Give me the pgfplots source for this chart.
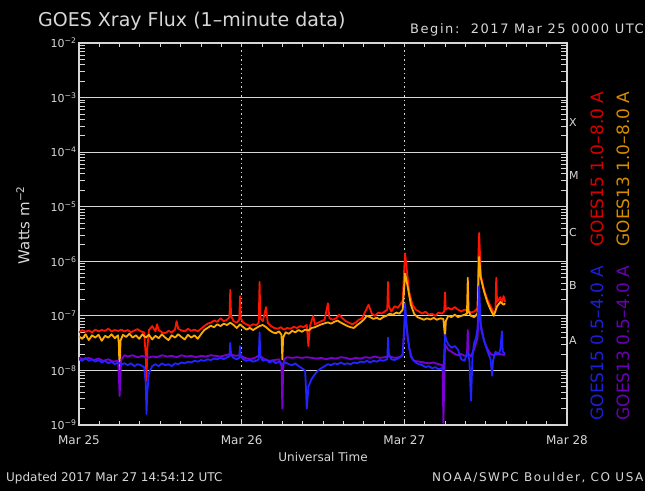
\documentclass[border=0pt]{standalone}
\usepackage{pgfplots}
\pgfplotsset{compat=1.18}
\usepackage{fontspec}
\setmainfont{DejaVu Sans}

\definecolor{fg}{RGB}{215,215,215}
\definecolor{longA}{RGB}{255,20,0}
\definecolor{longB}{RGB}{255,170,0}
\definecolor{shortA}{RGB}{35,35,255}
\definecolor{shortB}{RGB}{125,0,210}
\definecolor{txtA}{RGB}{215,0,0}
\definecolor{txtB}{RGB}{215,140,0}
\definecolor{txtC}{RGB}{30,30,215}
\definecolor{txtD}{RGB}{105,0,180}

\newcommand{\fs}[1]{\fontsize{#1}{#1}\selectfont}

\begin{document}
\begin{tikzpicture}
\fill[black] (-79pt,-66pt) rectangle (566pt,425pt);
\useasboundingbox (-79pt,-66pt) rectangle (566pt,425pt);
\begin{axis}[
  at={(0pt,0pt)}, anchor=south west,
  scale only axis, width=488pt, height=382pt,
  xmin=0, xmax=3,
  ymode=log, ymin=1e-9, ymax=1e-2,
  axis line style={fg, line width=1.2pt},
  every tick/.style={draw=none},
  xtick={0,1,2,3},
  xticklabels={Mar 25,Mar 26,Mar 27,Mar 28},
  ytick={1e-9,1e-8,1e-7,1e-6,1e-5,1e-4,1e-3,1e-2},
  yticklabels={10\textsuperscript{−9},10\textsuperscript{−8},10\textsuperscript{−7},10\textsuperscript{−6},10\textsuperscript{−5},10\textsuperscript{−4},10\textsuperscript{−3},10\textsuperscript{−2}},
  ymajorgrids,
  major grid style={fg, line width=1.2pt},
  xticklabel style={font=\fs{12}, text=fg, yshift=-7pt},
  yticklabel style={font=\fs{11}, text=fg, xshift=1pt},
  xlabel={Universal Time},
  xlabel style={font=\fs{12}, text=fg, yshift=-1pt},
  every axis plot/.append style={line width=1.8pt, line join=round},
]
% day boundaries
\draw[fg, line width=1pt, dash pattern=on 1.5pt off 3pt] (axis cs:1,1e-9) -- (axis cs:1,1e-2);
\draw[fg, line width=1pt, dash pattern=on 1.5pt off 3pt] (axis cs:2,1e-9) -- (axis cs:2,1e-2);
% 3-hour ticks on bottom and top
\pgfplotsinvokeforeach{0.125,0.25,0.375,0.5,0.625,0.75,0.875,1,1.125,1.25,1.375,1.5,1.625,1.75,1.875,2,2.125,2.25,2.375,2.5,2.625,2.75,2.875}{
  \draw[fg, line width=1pt] (axis cs:#1,1e-9) -- ([yshift=4pt]axis cs:#1,1e-9);
  \draw[fg, line width=1pt] (axis cs:#1,1e-2) -- ([yshift=-4pt]axis cs:#1,1e-2);
}
% log minor ticks on left and right
\pgfplotsinvokeforeach{2e-9,3e-9,4e-9,5e-9,6e-9,7e-9,8e-9,9e-9,
    2e-8,3e-8,4e-8,5e-8,6e-8,7e-8,8e-8,9e-8,
    2e-7,3e-7,4e-7,5e-7,6e-7,7e-7,8e-7,9e-7,
    2e-6,3e-6,4e-6,5e-6,6e-6,7e-6,8e-6,9e-6,
    2e-5,3e-5,4e-5,5e-5,6e-5,7e-5,8e-5,9e-5,
    2e-4,3e-4,4e-4,5e-4,6e-4,7e-4,8e-4,9e-4,
    2e-3,3e-3,4e-3,5e-3,6e-3,7e-3,8e-3,9e-3}{
  \draw[fg, line width=1pt] (axis cs:0,#1) -- ([xshift=6pt]axis cs:0,#1);
  \draw[fg, line width=1pt] (axis cs:3,#1) -- ([xshift=-6pt]axis cs:3,#1);
}
% GOES15 1.0-8.0 A
\addplot[longA] coordinates {
(0.00,5.0e-8)(0.02,5.5e-8)(0.04,5.1e-8)(0.06,5.4e-8)(0.08,5.0e-8)(0.10,5.6e-8)
(0.12,5.2e-8)(0.14,5.5e-8)(0.16,5.3e-8)(0.18,5.8e-8)(0.20,5.2e-8)(0.22,5.5e-8)
(0.24,5.3e-8)(0.26,5.6e-8)(0.28,5.2e-8)(0.30,5.5e-8)(0.32,5.0e-8)(0.34,5.4e-8)
(0.36,5.7e-8)(0.38,5.2e-8)(0.40,5.0e-8)(0.41,2.0e-8)(0.415,6.5e-9)(0.42,2.5e-8)
(0.43,5.5e-8)(0.45,6.5e-8)(0.47,5.2e-8)(0.48,7.0e-8)(0.49,5.5e-8)(0.51,5.0e-8)
(0.53,4.8e-8)(0.55,5.3e-8)(0.57,5.0e-8)(0.59,5.6e-8)(0.60,8.0e-8)(0.61,5.8e-8)
(0.63,5.4e-8)(0.65,5.2e-8)(0.67,5.8e-8)(0.69,5.3e-8)(0.71,5.6e-8)(0.73,5.2e-8)
(0.75,5.8e-8)(0.77,6.5e-8)(0.79,7.2e-8)(0.81,7.5e-8)(0.83,8.2e-8)(0.85,7.8e-8)
(0.87,9.0e-8)(0.89,8.0e-8)(0.91,8.5e-8)(0.925,9.5e-8)(0.93,3.0e-7)(0.935,1.0e-7)
(0.95,8.0e-8)(0.97,7.5e-8)(0.985,8.5e-8)(0.99,2.3e-7)(0.995,9.0e-8)(1.01,7.5e-8)
(1.03,7.0e-8)(1.05,6.5e-8)(1.07,7.0e-8)(1.09,6.8e-8)(1.105,7.5e-8)(1.11,4.2e-7)
(1.115,9.0e-8)(1.13,8.0e-8)(1.15,1.45e-7)(1.16,7.5e-8)(1.18,6.5e-8)(1.20,6.0e-8)
(1.22,5.8e-8)(1.24,6.2e-8)(1.26,5.6e-8)(1.28,6.0e-8)(1.30,5.8e-8)(1.32,6.3e-8)
(1.34,6.0e-8)(1.36,6.5e-8)(1.38,6.2e-8)(1.40,6.8e-8)(1.41,2.8e-8)(1.42,6.5e-8)
(1.44,1.0e-7)(1.45,7.0e-8)(1.47,7.5e-8)(1.49,8.0e-8)(1.51,8.5e-8)(1.53,1.7e-7)
(1.54,9.0e-8)(1.56,8.5e-8)(1.58,9.0e-8)(1.60,1.05e-7)(1.62,9.0e-8)(1.64,8.0e-8)
(1.66,7.5e-8)(1.68,7.0e-8)(1.70,7.5e-8)(1.72,8.5e-8)(1.74,9.0e-8)(1.76,1.2e-7)
(1.78,1.6e-7)(1.80,1.1e-7)(1.82,1.0e-7)(1.84,1.15e-7)(1.86,1.1e-7)(1.88,1.2e-7)
(1.895,1.3e-7)(1.90,4.2e-7)(1.905,1.5e-7)(1.92,1.2e-7)(1.94,1.5e-7)(1.96,1.4e-7)
(1.98,1.7e-7)(1.99,1.9e-7)(2.00,8.0e-7)(2.005,1.4e-6)(2.015,7.0e-7)(2.03,2.7e-7)
(2.05,1.6e-7)(2.07,1.3e-7)(2.09,1.2e-7)(2.11,1.1e-7)(2.13,1.2e-7)(2.15,1.05e-7)
(2.17,1.1e-7)(2.19,1.0e-7)(2.21,1.15e-7)(2.23,1.1e-7)(2.245,1.2e-7)(2.25,2.7e-7)
(2.255,1.3e-7)(2.27,1.4e-7)(2.29,1.3e-7)(2.31,1.45e-7)(2.33,1.3e-7)(2.35,1.2e-7)
(2.37,1.3e-7)(2.39,1.25e-7)(2.41,1.15e-7)(2.43,1.2e-7)(2.45,1.4e-7)(2.455,1.2e-6)
(2.46,3.3e-6)(2.47,5.5e-7)(2.49,3.0e-7)(2.51,2.0e-7)(2.53,1.5e-7)(2.55,1.15e-7)
(2.56,1.2e-7)(2.565,5.0e-7)(2.57,1.8e-7)(2.59,2.2e-7)(2.60,1.7e-7)(2.61,2.3e-7)
(2.62,1.8e-7)
};
% GOES13 1.0-8.0 A
\addplot[longB] coordinates {
(0.00,4.2e-8)(0.02,3.8e-8)(0.04,4.6e-8)(0.06,3.6e-8)(0.08,4.4e-8)(0.10,4.0e-8)
(0.12,4.5e-8)(0.14,3.5e-8)(0.16,4.3e-8)(0.18,4.0e-8)(0.20,4.6e-8)(0.22,3.9e-8)
(0.24,4.4e-8)(0.245,3.0e-8)(0.25,8.0e-9)(0.255,3.5e-8)(0.27,4.5e-8)(0.29,4.1e-8)
(0.31,4.7e-8)(0.33,4.0e-8)(0.35,4.4e-8)(0.37,3.8e-8)(0.39,4.6e-8)(0.41,4.0e-8)
(0.43,4.5e-8)(0.45,3.7e-8)(0.47,4.3e-8)(0.49,3.9e-8)(0.51,4.6e-8)(0.53,4.0e-8)
(0.55,3.6e-8)(0.57,4.4e-8)(0.59,4.0e-8)(0.61,4.6e-8)(0.63,4.1e-8)(0.65,3.7e-8)
(0.67,4.5e-8)(0.69,4.0e-8)(0.71,4.4e-8)(0.73,3.8e-8)(0.75,4.6e-8)(0.77,5.5e-8)
(0.79,6.0e-8)(0.81,6.6e-8)(0.83,6.2e-8)(0.85,7.0e-8)(0.87,6.5e-8)(0.89,7.2e-8)
(0.91,6.8e-8)(0.93,7.5e-8)(0.95,6.8e-8)(0.97,6.0e-8)(0.99,7.0e-8)(1.01,6.2e-8)
(1.03,5.6e-8)(1.05,6.0e-8)(1.07,5.5e-8)(1.09,6.0e-8)(1.11,6.5e-8)(1.13,6.8e-8)
(1.15,6.2e-8)(1.17,5.5e-8)(1.19,5.0e-8)(1.21,4.8e-8)(1.23,5.2e-8)(1.245,4.5e-8)
(1.25,1.6e-8)(1.255,4.0e-8)(1.27,5.0e-8)(1.29,4.7e-8)(1.31,5.3e-8)(1.33,5.0e-8)
(1.35,5.5e-8)(1.37,5.1e-8)(1.39,5.6e-8)(1.41,5.4e-8)(1.43,6.0e-8)(1.45,6.2e-8)
(1.47,6.6e-8)(1.49,7.0e-8)(1.51,7.3e-8)(1.53,7.6e-8)(1.55,7.2e-8)(1.57,7.8e-8)
(1.59,8.2e-8)(1.61,7.5e-8)(1.63,7.0e-8)(1.65,6.5e-8)(1.67,6.2e-8)(1.69,6.0e-8)
(1.71,6.8e-8)(1.73,7.5e-8)(1.75,8.5e-8)(1.77,1.0e-7)(1.79,9.5e-8)(1.81,8.8e-8)
(1.83,9.2e-8)(1.85,8.6e-8)(1.87,9.5e-8)(1.89,1.0e-7)(1.91,1.1e-7)(1.93,1.05e-7)
(1.95,1.15e-7)(1.97,1.1e-7)(1.99,1.3e-7)(2.005,6.0e-7)(2.02,3.5e-7)(2.04,1.6e-7)
(2.06,1.1e-7)(2.08,9.5e-8)(2.10,9.0e-8)(2.12,8.5e-8)(2.14,9.0e-8)(2.16,8.6e-8)
(2.18,9.2e-8)(2.20,8.5e-8)(2.22,9.0e-8)(2.24,8.8e-8)(2.245,6.0e-8)(2.25,4.0e-8)
(2.255,8.0e-8)(2.27,1.0e-7)(2.29,9.5e-8)(2.31,1.05e-7)(2.33,9.5e-8)(2.35,1.0e-7)
(2.37,1.05e-7)(2.385,1.1e-7)(2.39,5.0e-7)(2.395,1.2e-7)(2.41,1.0e-7)(2.43,9.5e-8)
(2.45,1.1e-7)(2.46,1.2e-6)(2.47,5.0e-7)(2.49,2.8e-7)(2.51,1.8e-7)(2.53,1.3e-7)
(2.55,1.0e-7)(2.57,1.5e-7)(2.59,1.8e-7)(2.61,1.6e-7)(2.62,1.7e-7)
};
% GOES13 0.5-4.0 A
\addplot[shortB] coordinates {
(0.00,1.7e-8)(0.03,1.6e-8)(0.06,1.7e-8)(0.09,1.55e-8)(0.12,1.65e-8)(0.15,1.5e-8)
(0.18,1.6e-8)(0.21,1.45e-8)(0.24,1.5e-8)(0.245,8.0e-9)(0.25,3.4e-9)(0.255,9.0e-9)
(0.26,1.6e-8)(0.28,1.9e-8)(0.30,1.8e-8)(0.33,1.9e-8)(0.36,1.75e-8)(0.39,1.85e-8)
(0.42,1.7e-8)(0.45,1.8e-8)(0.48,1.75e-8)(0.51,1.9e-8)(0.54,1.8e-8)(0.57,1.85e-8)
(0.60,1.75e-8)(0.63,1.9e-8)(0.66,1.8e-8)(0.69,1.85e-8)(0.72,1.75e-8)(0.75,1.85e-8)
(0.78,1.8e-8)(0.81,1.9e-8)(0.84,1.85e-8)(0.87,1.8e-8)(0.90,1.9e-8)(0.93,2.0e-8)
(0.96,1.85e-8)(0.99,1.9e-8)(1.02,1.7e-8)(1.05,1.6e-8)(1.08,1.7e-8)(1.11,1.9e-8)
(1.14,1.6e-8)(1.17,1.5e-8)(1.20,1.55e-8)(1.23,1.6e-8)(1.245,1.2e-8)(1.25,2.0e-9)
(1.255,1.0e-8)(1.26,1.6e-8)(1.28,1.75e-8)(1.31,1.7e-8)(1.34,1.75e-8)(1.37,1.7e-8)
(1.40,1.75e-8)(1.43,1.7e-8)(1.46,1.65e-8)(1.49,1.7e-8)(1.52,1.6e-8)(1.55,1.7e-8)
(1.58,1.65e-8)(1.61,1.75e-8)(1.64,1.7e-8)(1.67,1.6e-8)(1.70,1.7e-8)(1.73,1.65e-8)
(1.76,1.75e-8)(1.79,1.7e-8)(1.82,1.8e-8)(1.85,1.7e-8)(1.88,1.75e-8)(1.91,1.8e-8)
(1.94,1.7e-8)(1.97,1.75e-8)(1.99,1.9e-8)(2.005,1.2e-7)(2.02,4.0e-8)(2.04,1.8e-8)
(2.06,1.5e-8)(2.09,1.45e-8)(2.12,1.4e-8)(2.15,1.35e-8)(2.18,1.4e-8)(2.21,1.3e-8)
(2.235,1.25e-8)(2.24,1.1e-9)(2.245,5.0e-9)(2.25,3.0e-8)(2.27,2.4e-8)(2.29,2.2e-8)
(2.31,2.0e-8)(2.33,1.9e-8)(2.35,2.0e-8)(2.37,1.85e-8)(2.385,1.9e-8)(2.39,5.5e-8)
(2.395,2.0e-8)(2.41,1.8e-8)(2.43,2.5e-8)(2.45,4.0e-8)(2.46,1.6e-7)(2.47,7.0e-8)
(2.49,3.5e-8)(2.51,2.5e-8)(2.53,2.0e-8)(2.55,1.9e-8)(2.57,2.0e-8)(2.59,2.0e-8)
(2.62,1.9e-8)
};
% GOES15 0.5-4.0 A
\addplot[shortA] coordinates {
(0.00,1.6e-8)(0.02,1.5e-8)(0.04,1.7e-8)(0.06,1.5e-8)(0.08,1.6e-8)(0.10,1.45e-8)
(0.12,1.55e-8)(0.14,1.4e-8)(0.16,1.5e-8)(0.18,1.35e-8)(0.20,1.45e-8)(0.22,1.3e-8)
(0.24,1.4e-8)(0.26,1.3e-8)(0.28,1.35e-8)(0.30,1.25e-8)(0.32,1.35e-8)(0.34,1.2e-8)
(0.36,1.3e-8)(0.38,1.25e-8)(0.40,1.15e-8)(0.41,6.0e-9)(0.415,1.6e-9)(0.42,4.0e-9)
(0.43,9.0e-9)(0.45,1.2e-8)(0.47,1.3e-8)(0.49,1.2e-8)(0.51,1.35e-8)(0.53,1.25e-8)
(0.55,1.3e-8)(0.57,1.2e-8)(0.59,1.35e-8)(0.61,1.3e-8)(0.63,1.4e-8)(0.65,1.35e-8)
(0.67,1.45e-8)(0.69,1.4e-8)(0.71,1.5e-8)(0.73,1.45e-8)(0.75,1.55e-8)(0.77,1.5e-8)
(0.79,1.6e-8)(0.81,1.55e-8)(0.83,1.65e-8)(0.85,1.6e-8)(0.87,1.7e-8)(0.89,1.6e-8)
(0.91,1.75e-8)(0.925,1.8e-8)(0.93,3.2e-8)(0.935,1.9e-8)(0.95,1.7e-8)(0.97,1.6e-8)
(0.985,1.7e-8)(0.99,2.8e-8)(0.995,1.8e-8)(1.01,1.6e-8)(1.03,1.5e-8)(1.05,1.55e-8)
(1.07,1.45e-8)(1.09,1.5e-8)(1.105,1.6e-8)(1.11,5.0e-8)(1.115,1.8e-8)(1.13,1.5e-8)
(1.15,1.6e-8)(1.17,1.4e-8)(1.19,1.5e-8)(1.21,1.35e-8)(1.23,1.45e-8)(1.25,1.3e-8)
(1.27,1.4e-8)(1.29,1.3e-8)(1.31,1.25e-8)(1.33,1.35e-8)(1.35,1.2e-8)(1.37,1.1e-8)
(1.39,1.0e-8)(1.395,5.0e-9)(1.40,2.0e-9)(1.405,3.0e-9)(1.41,5.0e-9)(1.43,7.0e-9)
(1.45,8.5e-9)(1.47,1.0e-8)(1.49,1.1e-8)(1.51,1.2e-8)(1.53,1.3e-8)(1.55,1.25e-8)
(1.57,1.35e-8)(1.59,1.3e-8)(1.61,1.4e-8)(1.63,1.3e-8)(1.65,1.35e-8)(1.67,1.3e-8)
(1.69,1.4e-8)(1.71,1.35e-8)(1.73,1.45e-8)(1.75,1.4e-8)(1.77,1.5e-8)(1.79,1.4e-8)
(1.81,1.5e-8)(1.83,1.45e-8)(1.85,1.55e-8)(1.87,1.5e-8)(1.895,1.6e-8)(1.90,4.0e-8)
(1.905,2.0e-8)(1.92,1.6e-8)(1.94,1.55e-8)(1.96,1.65e-8)(1.98,1.8e-8)(1.99,2.0e-8)
(2.00,6.0e-8)(2.005,1.7e-7)(2.015,6.0e-8)(2.03,2.5e-8)(2.05,1.6e-8)(2.07,1.4e-8)
(2.09,1.3e-8)(2.11,1.25e-8)(2.13,1.15e-8)(2.15,1.2e-8)(2.17,1.1e-8)(2.19,1.15e-8)
(2.21,1.05e-8)(2.23,1.1e-8)(2.24,1.0e-8)(2.245,2.0e-8)(2.25,4.5e-8)(2.26,3.5e-8)
(2.27,3.0e-8)(2.29,2.6e-8)(2.31,2.8e-8)(2.33,2.4e-8)(2.35,1.6e-8)(2.37,1.5e-8)
(2.39,2.2e-8)(2.40,1.5e-8)(2.405,6.0e-9)(2.41,2.8e-9)(2.415,8.0e-9)(2.42,2.0e-8)
(2.43,3.3e-8)(2.44,3.8e-8)(2.45,6.0e-8)(2.46,3.5e-7)(2.465,1.5e-7)(2.47,6.0e-8)
(2.49,3.5e-8)(2.51,2.3e-8)(2.53,1.6e-8)(2.54,8.0e-9)(2.545,1.5e-8)(2.56,2.2e-8)
(2.58,2.0e-8)(2.59,2.4e-8)(2.60,5.2e-8)(2.605,2.2e-8)(2.62,2.0e-8)
};
\end{axis}
% axis title and footer
\node[rotate=90, text=fg, font=\fs{15}, inner sep=0pt] at (-56pt,200pt) {Watts m\textsuperscript{−2}};
\node[anchor=west, text=fg, font=\fs{19}, inner sep=0pt] at (-41pt,404pt) {GOES Xray Flux (1--minute data)};
\node[anchor=west, text=fg, font=\fs{13}\addfontfeature{LetterSpace=12}, inner sep=0pt] at (331pt,395pt) {Begin:\ \ 2017 Mar 25 0000 UTC};
\node[anchor=west, text=fg, font=\fs{12}, inner sep=0pt] at (-73pt,-53pt) {Updated 2017 Mar 27 14:54:12 UTC};
\node[anchor=west, text=fg, font=\fs{12}\addfontfeature{LetterSpace=13}, inner sep=0pt] at (353pt,-53pt) {NOAA/SWPC Boulder, CO USA};
% flare classes
\foreach \c/\y in {X/303,M/250,C/193,B/140,A/85}
  \node[anchor=west, text=fg, font=\fs{11}, inner sep=0pt] at (490pt,\y pt) {\c};
% channel labels
\node[rotate=90, text=txtA, font=\fs{17}, inner sep=0pt] at (518pt,256pt) {GOES15 1.0--8.0 A};
\node[rotate=90, text=txtB, font=\fs{17}, inner sep=0pt] at (544pt,256pt) {GOES13 1.0--8.0 A};
\node[rotate=90, text=txtC, font=\fs{17}, inner sep=0pt] at (518pt,82pt) {GOES15 0.5--4.0 A};
\node[rotate=90, text=txtD, font=\fs{17}, inner sep=0pt] at (544pt,82pt) {GOES13 0.5--4.0 A};
\end{tikzpicture}
\end{document}
